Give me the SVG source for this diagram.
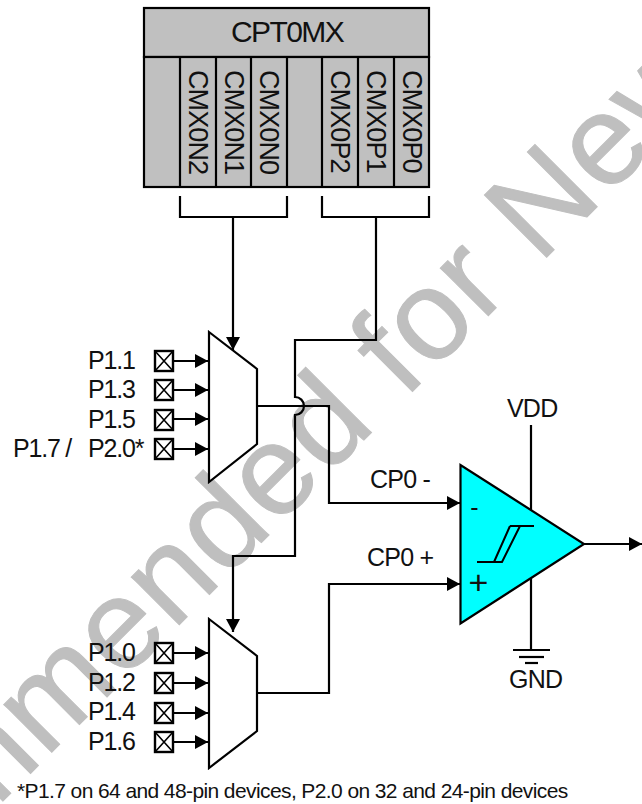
<svg xmlns="http://www.w3.org/2000/svg" width="642" height="804" viewBox="0 0 642 804">
<style>
text{font-family:"Liberation Sans",Arial,sans-serif;fill:#111}
.wm{font-size:128px;letter-spacing:1.4px;fill:#bfbfbf;stroke:#bfbfbf;stroke-width:1}
.l{font-size:25px;letter-spacing:-1.2px}
.c{font-size:25px;letter-spacing:-0.8px}
.v{font-size:27px;letter-spacing:-0.9px}
.w{fill:none;stroke:#000;stroke-width:2.200}
.t{stroke:#000;stroke-width:1.600;fill:none}
.box{fill:#c0c0c0;stroke:#000;stroke-width:2.200}
.pin{fill:#fff;stroke:#000;stroke-width:2.400}
.mux{fill:#fff;stroke:#000;stroke-width:2.200;stroke-linejoin:miter}
</style>
<defs>
<marker id="a" markerUnits="userSpaceOnUse" markerWidth="14" markerHeight="16" refX="13" refY="7.500" orient="auto"><path d="M0,0.500L13,7.500L0,14.500z" fill="#000"/></marker>
<g id="p"><rect class="pin" x="-9" y="-10" width="18" height="20"/><path class="t" d="M-9,-10L9,10M9,-10L-9,10"/></g>
</defs>
<text id="watermark" class="wm" transform="translate(-31,835) rotate(-45)">mmended for New</text>
<g id="connectors">
<path class="w" d="M180,196V217H287V196M322,196V217H429V196"/>
<path class="w" marker-end="url(#a)" d="M233,217V350"/>
<path class="w" marker-end="url(#a)" d="M376,217V340H295V397A9,9 0 0 1 295,415V556H233V632"/>
<path class="w" marker-end="url(#a)" d="M257,406H329V503H460"/>
<path class="w" marker-end="url(#a)" d="M257,693H329V584H460"/>
<path class="w" marker-end="url(#a)" d="M584,544H642"/>
<path class="w" d="M531,425V510M531,578V650"/>
<path class="w" d="M513,650H550"/><path class="w" d="M519,657H544"/><path class="w" d="M525,663H538"/>
<path class="w" marker-end="url(#a)" d="M173,361H208"/>
<path class="w" marker-end="url(#a)" d="M173,390H208"/>
<path class="w" marker-end="url(#a)" d="M173,419H208"/>
<path class="w" marker-end="url(#a)" d="M173,449H208"/>
<path class="w" marker-end="url(#a)" d="M173,653H208"/>
<path class="w" marker-end="url(#a)" d="M173,683H208"/>
<path class="w" marker-end="url(#a)" d="M173,713H208"/>
<path class="w" marker-end="url(#a)" d="M173,742H208"/>
</g>
<g id="cpt0mx">
<rect class="box" x="144" y="8" width="285" height="49"/>
<rect class="box" x="144" y="57" width="285" height="130"/>
<path class="w" d="M180,57V187M216,57V187M251,57V187M287,57V187M322,57V187M358,57V187M394,57V187"/>
<text x="287" y="42" text-anchor="middle" style="font-size:30px;letter-spacing:-1.6px">CPT0MX</text>
<text class="v" transform="translate(189,70) rotate(90)">CMX0N2</text>
<text class="v" transform="translate(225,70) rotate(90)">CMX0N1</text>
<text class="v" transform="translate(260,70) rotate(90)">CMX0N0</text>
<text class="v" transform="translate(331,70) rotate(90)">CMX0P2</text>
<text class="v" transform="translate(367,70) rotate(90)">CMX0P1</text>
<text class="v" transform="translate(403,70) rotate(90)">CMX0P0</text>
</g>
<g id="mux-top"><path class="mux" d="M209,332L257,369V444L209,482Z"/></g>
<g id="mux-bottom"><path class="mux" d="M209,619L257,656V731L209,768Z"/></g>
<g id="pins-top">
<use href="#p" x="164" y="361"/><use href="#p" x="164" y="390"/><use href="#p" x="164" y="420"/><use href="#p" x="164" y="449"/>
<text class="l" x="88" y="369">P1.1</text><text class="l" x="88" y="398">P1.3</text><text class="l" x="88" y="428">P1.5</text>
<text class="l" x="13" y="457">P1.7 /</text><text class="l" x="88" y="457">P2.0*</text>
</g>
<g id="pins-bottom">
<use href="#p" x="164" y="653"/><use href="#p" x="164" y="683"/><use href="#p" x="164" y="713"/><use href="#p" x="164" y="742"/>
<text class="l" x="88" y="661">P1.0</text><text class="l" x="88" y="691">P1.2</text><text class="l" x="88" y="720">P1.4</text><text class="l" x="88" y="750">P1.6</text>
</g>
<g id="comparator">
<path d="M460.500,465V623.500L584,544Z" fill="#00ffff" stroke="#000" stroke-width="2.200"/>
<path class="t" style="stroke-width:2" d="M477,562H502L520,526H534M510,526H520M494,562L510,526"/>
<text x="474.500" y="516" text-anchor="middle" style="font-size:25px">-</text>
<text x="478.500" y="594" text-anchor="middle" style="font-size:34px">+</text>
<text class="c" x="370" y="488">CP0 -</text>
<text class="c" x="367" y="566">CP0 +</text>
<text class="c" x="507" y="417">VDD</text>
<text class="c" x="509" y="688">GND</text>
</g>
<text id="footnote" x="17" y="798" style="font-size:21px;letter-spacing:-0.6px">*P1.7 on 64 and 48-pin devices, P2.0 on 32 and 24-pin devices</text>
</svg>
